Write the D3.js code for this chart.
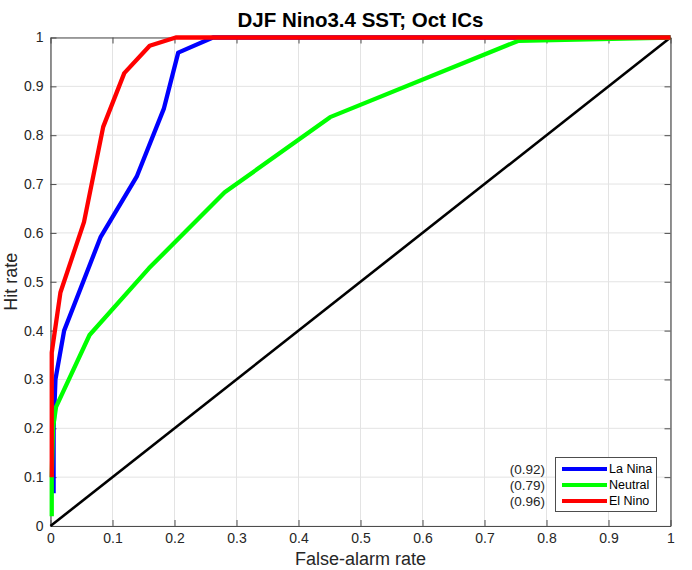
<!DOCTYPE html>
<html>
<head>
<meta charset="utf-8">
<script src="https://cdn.jsdelivr.net/npm/d3@7"></script>
<style>
  html, body { margin: 0; padding: 0; background: #fff; }
  svg { display: block; font-family: "Liberation Sans", Arial, sans-serif; }
</style>
</head>
<body>
<svg id="chart" width="692" height="570"></svg>
<script>
// ROC curves: false-alarm rate (x) vs hit rate (y)
const laNinaFar = [0.005, 0.005, 0.008, 0.022, 0.081, 0.139, 0.183, 0.206, 0.262, 1.0];
const laNinaHit = [0.067, 0.20, 0.30, 0.40, 0.592, 0.715, 0.855, 0.969, 1.0, 1.0];

const neutralFar = [0.002, 0.002, 0.004, 0.009, 0.063, 0.159, 0.281, 0.451, 0.754, 1.0];
const neutralHit = [0.02, 0.10, 0.20, 0.244, 0.391, 0.528, 0.683, 0.837, 0.993, 1.0];

const elNinoFar = [0.002, 0.002, 0.016, 0.054, 0.085, 0.119, 0.160, 0.202, 1.0];
const elNinoHit = [0.10, 0.355, 0.478, 0.622, 0.817, 0.927, 0.983, 1.0, 1.0];

const seriesNames = ["La Nina", "Neutral", "El Nino"];
const rocAreas = ["(0.92)", "(0.79)", "(0.96)"];
const seriesColors = ["#0000ff", "#00ff00", "#ff0000"];

const xTicks = [0, 0.1, 0.2, 0.3, 0.4, 0.5, 0.6, 0.7, 0.8, 0.9, 1];
const yTicks = [0, 0.1, 0.2, 0.3, 0.4, 0.5, 0.6, 0.7, 0.8, 0.9, 1];

(function () {
const svg = d3.select("#chart");
const pLeft = 50.5, pRight = 670.5, pTop = 37.5, pBottom = 526;

const x = d3.scaleLinear().domain([0, 1]).range([pLeft, pRight]);
const y = d3.scaleLinear().domain([0, 1]).range([pBottom, pTop]);

// grid
const grid = svg.append("g");
grid.selectAll(".gx").data(xTicks).enter().append("line")
  .attr("x1", d => x(d)).attr("x2", d => x(d))
  .attr("y1", pTop).attr("y2", pBottom)
  .attr("stroke", "#e3e3e3").attr("stroke-width", 1);
grid.selectAll(".gy").data(yTicks).enter().append("line")
  .attr("y1", d => y(d)).attr("y2", d => y(d))
  .attr("x1", pLeft).attr("x2", pRight)
  .attr("stroke", "#e3e3e3").attr("stroke-width", 1);

// axes (inward ticks, box on all sides)
const axColor = "#4d4d4d";
const tickLen = 6;
const fmt = d => String(d);

const xAxis = svg.append("g").attr("transform", `translate(0,${pBottom})`)
  .call(d3.axisBottom(x).tickValues(xTicks).tickFormat(fmt).tickSizeInner(-tickLen).tickSizeOuter(0).tickPadding(7));
const yAxis = svg.append("g").attr("transform", `translate(${pLeft},0)`)
  .call(d3.axisLeft(y).tickValues(yTicks).tickFormat(fmt).tickSizeInner(-tickLen).tickSizeOuter(0).tickPadding(7));
const xAxisTop = svg.append("g").attr("transform", `translate(0,${pTop})`)
  .call(d3.axisTop(x).tickValues(xTicks).tickFormat("").tickSizeInner(-tickLen).tickSizeOuter(0));
const yAxisRight = svg.append("g").attr("transform", `translate(${pRight},0)`)
  .call(d3.axisRight(y).tickValues(yTicks).tickFormat("").tickSizeInner(-tickLen).tickSizeOuter(0));

[xAxis, yAxis, xAxisTop, yAxisRight].forEach(g => {
  g.select(".domain").attr("stroke", axColor).attr("stroke-width", 1.2);
  g.selectAll(".tick line").attr("stroke", axColor).attr("stroke-width", 1);
  g.selectAll(".tick text").attr("fill", "#262626").attr("font-size", 14)
    .attr("font-family", "'Liberation Sans', Arial, sans-serif");
});

// chance diagonal
svg.append("line")
  .attr("x1", x(0)).attr("y1", y(0)).attr("x2", x(1)).attr("y2", y(1))
  .attr("stroke", "#000").attr("stroke-width", 2.6);

// ROC curves
const curves = [
  { far: laNinaFar, hit: laNinaHit },
  { far: neutralFar, hit: neutralHit },
  { far: elNinoFar, hit: elNinoHit }
];
const line = d3.line().x(d => x(d[0])).y(d => y(d[1]));
curves.forEach((c, i) => {
  const pts = c.far.map((f, j) => [f, c.hit[j]]);
  svg.append("path").datum(pts)
    .attr("d", line)
    .attr("fill", "none")
    .attr("stroke", seriesColors[i])
    .attr("stroke-width", 4.3)
    .attr("stroke-linejoin", "round");
});

// ROC area labels
const rowY = [469, 485, 501];
svg.selectAll(".auc").data(rocAreas).enter().append("text")
  .attr("x", 545).attr("y", (d, i) => rowY[i]).attr("dy", "0.35em")
  .attr("text-anchor", "end").attr("font-size", 13.5).attr("fill", "#262626")
  .text(d => d);

// legend
const lg = svg.append("g");
lg.append("rect").attr("x", 555.5).attr("y", 457.5).attr("width", 101).attr("height", 54)
  .attr("fill", "#fff").attr("stroke", "#4d4d4d").attr("stroke-width", 1);
seriesNames.forEach((name, i) => {
  lg.append("line").attr("x1", 562).attr("x2", 607)
    .attr("y1", rowY[i]).attr("y2", rowY[i])
    .attr("stroke", seriesColors[i]).attr("stroke-width", 4);
  lg.append("text").attr("x", 609).attr("y", rowY[i]).attr("dy", "0.35em")
    .attr("font-size", 12.5).attr("fill", "#000").text(name);
});

// title and axis labels
svg.append("text").attr("x", x(0.5)).attr("y", 27).attr("text-anchor", "middle")
  .attr("font-size", 20.5).attr("font-weight", "bold").attr("fill", "#000")
  .text("DJF Nino3.4 SST; Oct ICs");
svg.append("text").attr("x", x(0.5)).attr("y", 565).attr("text-anchor", "middle")
  .attr("font-size", 18).attr("fill", "#262626").text("False-alarm rate");
svg.append("text").attr("transform", `translate(17,${y(0.5)}) rotate(-90)`)
  .attr("text-anchor", "middle").attr("font-size", 18).attr("fill", "#262626").text("Hit rate");
})();
</script>
</body>
</html>
